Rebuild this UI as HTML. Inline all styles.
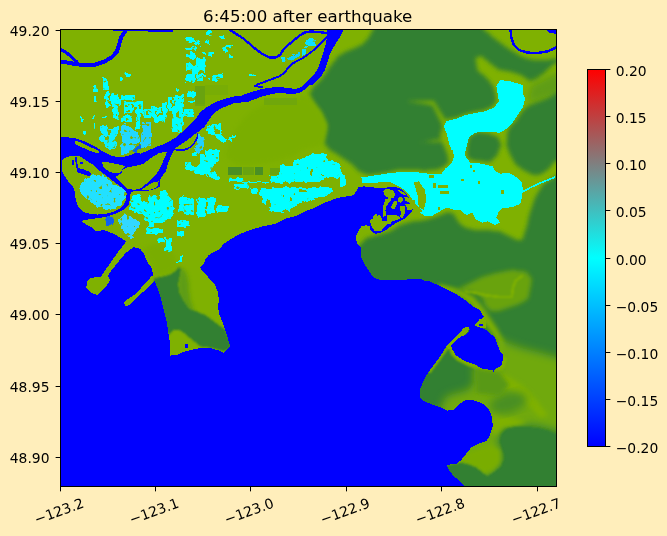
<!DOCTYPE html>
<html><head><meta charset="utf-8"><title>6:45:00 after earthquake</title>
<style>
html,body{margin:0;padding:0;background:#ffeebb;}
body{width:667px;height:536px;overflow:hidden;}
svg{display:block;}
text{font-family:"DejaVu Sans","Liberation Sans",sans-serif;fill:#000;}
.t{font-size:13.89px;}
.ttl{font-size:16.67px;}
</style></head><body>
<svg width="667" height="536" viewBox="0 0 667 536">
<defs>
<linearGradient id="cb" x1="0" y1="1" x2="0" y2="0">
<stop offset="0" stop-color="#0000ff"/>
<stop offset="0.5" stop-color="#00ffff"/>
<stop offset="1" stop-color="#ff0000"/>
</linearGradient>
<clipPath id="axclip"><rect x="60.5" y="29.5" width="496.0" height="457.0"/></clipPath>
<filter id="rag2" x="-5%" y="-5%" width="110%" height="110%">
<feTurbulence type="fractalNoise" baseFrequency="0.25" numOctaves="1" seed="3" result="n"/>
<feDisplacementMap in="SourceGraphic" in2="n" scale="5" xChannelSelector="R" yChannelSelector="G" result="d"/>
<feTurbulence type="fractalNoise" baseFrequency="0.3" numOctaves="1" seed="5" result="n2"/>
<feColorMatrix in="n2" type="matrix" values="0 0 0 0 0  0 0 0 0 0  0 0 0 0 0  12 0 0 0 -8.6" result="m"/>
<feComposite in="d" in2="m" operator="out"/>
</filter>
<filter id="rag" x="-5%" y="-5%" width="110%" height="110%">
<feTurbulence type="fractalNoise" baseFrequency="0.22" numOctaves="1" seed="7" result="n"/>
<feDisplacementMap in="SourceGraphic" in2="n" scale="6" xChannelSelector="R" yChannelSelector="G" result="d"/>
<feTurbulence type="fractalNoise" baseFrequency="0.3" numOctaves="1" seed="11" result="n2"/>
<feColorMatrix in="n2" type="matrix" values="0 0 0 0 0  0 0 0 0 0  0 0 0 0 0  12 0 0 0 -7.7" result="m"/>
<feComposite in="d" in2="m" operator="out"/>
</filter>
<filter id="b1" x="-20%" y="-20%" width="140%" height="140%"><feGaussianBlur stdDeviation="1"/></filter>
<filter id="b2" x="-20%" y="-20%" width="140%" height="140%"><feGaussianBlur stdDeviation="2"/></filter>
<filter id="b4" x="-20%" y="-20%" width="140%" height="140%"><feGaussianBlur stdDeviation="4"/></filter>
<filter id="b7" x="-30%" y="-30%" width="160%" height="160%"><feGaussianBlur stdDeviation="7"/></filter>

</defs>
<rect x="0" y="0" width="667" height="536" fill="#ffeebb"/>
<g clip-path="url(#axclip)">
<g shape-rendering="crispEdges"><rect x="60" y="29" width="497" height="458" fill="#7fb101"/>
<polygon points="378.0,0.0 373.0,29.8 369.0,37.0 363.0,44.2 354.5,48.3 346.0,51.5 339.0,55.5 334.0,61.5 329.3,67.5 325.7,73.5 321.3,79.5 314.0,86.7 309.5,93.0 313.6,103.0 321.4,112.7 327.3,126.3 323.4,141.9 329.2,149.7 339.0,155.6 350.7,163.4 358.5,171.2 368.2,175.1 385.8,173.1 400.0,169.6 425.0,170.7 435.1,170.1 442.6,167.6 448.8,162.6 447.6,155.1 443.8,145.1 441.3,141.4 420.0,142.6 441.3,138.9 440.1,135.1 442.6,127.6 441.3,122.6 432.5,105.1 425.0,103.8 407.5,101.3 425.0,100.5 433.8,101.3 445.1,119.6 456.3,117.6 465.1,114.1 475.1,111.8 485.1,110.1 492.6,106.6 496.6,101.0 495.6,93.8 493.1,85.5 486.4,78.0 477.6,70.0 475.4,58.1 481.3,56.2 491.0,64.0 498.8,69.8 510.5,71.8 522.2,75.7 530.0,81.5 537.8,78.8 545.6,71.8 553.4,64.0 572.9,58.1 575.0,57.0 549.0,59.6 537.4,60.5 527.5,58.8 519.3,55.5 507.7,48.1 496.2,39.8 484.6,30.0 468.0,5.0" fill="#338033" filter="url(#b2)"/>
<polygon points="530.2,85.0 550.2,75.0 580.3,67.5 580.3,97.5 550.2,97.5 535.2,102.5 526.4,102.5" fill="#5e9d16" filter="url(#b4)"/>
<polygon points="580.3,85.0 556.0,93.5 548.7,97.8 540.5,101.0 531.9,104.1 525.7,107.3 521.4,112.6 517.2,118.8 513.2,123.1 508.9,128.3 506.9,134.6 506.4,145.1 510.2,155.1 515.2,163.9 522.7,170.1 532.7,174.7 540.2,174.7 547.7,170.1 554.0,162.6 580.3,145.1" fill="#338033" filter="url(#b2)"/>
<polygon points="469.1,136.6 477.6,132.1 487.6,133.1 498.1,137.1 501.2,145.1 497.1,155.6 490.6,161.9 475.1,161.1 466.6,157.6 467.1,147.6" fill="#338033" filter="url(#b2)"/>
<polygon points="251.2,111.0 266.5,103.3 286.9,98.2 304.7,95.7 312.3,100.8 320.0,111.0 326.4,123.7 325.1,139.0 320.0,146.7 304.7,149.2 291.9,156.9 274.1,161.9 253.7,164.5 235.9,164.5 225.7,156.9 228.2,144.1 235.9,128.8 243.5,118.6" fill="#7aae04" filter="url(#b2)"/>
<path d="M195.1 85.5h10.2v20.4h-10.2z" fill="#6fa60c" />
<path d="M263.9 98.2h33.1v6.4h-33.1z" fill="#70a70b" />
<polygon points="350.0,255.2 355.0,248.9 361.3,243.1 367.5,237.6 377.6,235.1 390.1,231.4 400.1,225.1 412.5,221.4 425.0,220.1 437.6,216.3 447.6,212.1 453.8,213.8 458.8,222.6 465.1,227.6 475.1,230.1 487.6,230.1 500.1,231.4 510.2,236.4 517.7,240.6 522.2,239.6 526.2,228.4 529.9,212.6 535.2,197.1 543.0,184.1 556.2,176.0 590.3,160.0 600.0,520.0 400.0,520.0 380.0,300.0" fill="#338033" filter="url(#b2)"/>
<polygon points="481.4,277.2 494.0,273.6 512.0,270.0 526.4,271.8 531.8,279.0 530.0,289.8 528.2,298.8 519.2,304.2 508.4,307.8 497.6,311.4 490.4,311.4 485.0,306.0 483.2,298.8 476.0,293.4 467.0,291.6 456.2,288.9 447.2,287.1 440.0,285.8 436.4,289.8 450.8,292.5" fill="#69a30f" filter="url(#b2)"/>
<polyline points="522.8,275.4 515.6,280.8 512.9,288.0 512.0,297.0 499.4,297.0 485.0,295.2 476.0,292.5 465.2,291.6" fill="none" stroke="#7fb101" stroke-width="2.5" filter="url(#b1)"/>
<polygon points="438.2,284.4 450.8,288.0 463.4,290.7 474.2,297.0 484.1,308.7 490.4,318.6 497.6,329.4 503.0,339.3 505.7,349.2 506.6,370.7 499.4,370.7 497.6,342.0 490.4,331.2 479.6,316.8 470.6,304.2 458.0,295.2 440.0,289.8" fill="#7fb101" filter="url(#b2)"/>
<polygon points="497.0,339.0 521.0,348.0 541.0,353.0 570.0,361.0 570.0,430.0 556.0,431.0 548.0,428.0 537.0,425.5 526.0,424.5 515.6,424.5 506.6,426.5 500.0,432.0 498.0,441.0 500.5,449.0 503.0,458.0 500.0,467.0 494.0,473.5 487.7,479.0 481.0,474.0 476.0,469.5 468.8,466.8 461.6,465.0 454.4,466.0 447.0,468.0 438.0,462.0 440.0,410.0 446.0,397.0 452.0,394.5 462.0,392.0 470.0,389.0 474.0,382.0 474.0,373.0 472.0,366.0 490.0,372.0 500.0,368.0" fill="#70a90a" filter="url(#b4)"/>
<polygon points="478.0,368.0 491.0,371.0 503.0,374.0 514.0,380.0 526.0,388.0 538.0,402.0 548.0,415.0 540.0,418.0 528.0,406.0 515.0,394.0 503.0,386.0 492.0,381.0 480.0,380.0" fill="#7fb101" filter="url(#b2)"/>
<polygon points="493.0,410.8 501.2,416.2 515.6,418.0 528.0,421.6 515.6,426.0 503.0,427.5 494.0,436.0 491.0,427.0" fill="#7fb101" filter="url(#b2)"/>
<polygon points="447.0,466.0 455.0,460.0 470.0,452.0 490.0,445.0 500.0,450.0 500.0,462.0 492.0,470.0 484.0,474.0 476.0,468.0 462.0,463.0" fill="#79ad05" filter="url(#b2)"/>
<ellipse cx="508" cy="403" rx="19" ry="10" fill="#4a8f24" filter="url(#b4)" transform="rotate(-15 508 403)"/>
<polygon points="575.0,436.0 556.0,434.2 548.0,430.6 537.2,427.9 526.4,427.0 515.6,427.0 506.6,428.8 501.2,434.2 499.4,441.4 502.0,448.6 504.8,457.6 501.2,466.6 494.0,472.0 487.7,476.5 481.4,472.0 476.0,467.5 468.8,464.8 461.6,463.0 454.4,463.9 447.2,465.7 438.0,466.0 438.0,500.0 575.0,500.0" fill="#338033" filter="url(#b1)"/>
<polygon points="143.0,248.0 155.0,243.5 167.0,245.0 174.5,255.5 177.5,267.5 170.0,273.5 155.0,276.5 152.0,266.0 146.0,257.0" fill="#79ad05" filter="url(#b2)"/>
<polygon points="178.7,266.6 185.0,270.2 188.3,279.5 189.2,290.0 190.2,299.0 194.0,311.0 185.0,311.0 179.0,296.0 177.5,284.0 179.3,275.0" fill="#5d9c16" filter="url(#b2)"/>
<polygon points="153.8,278.3 162.5,276.8 170.0,274.5 176.0,270.8 178.7,266.9 180.8,269.3 179.9,275.0 178.2,284.0 179.3,293.0 183.2,300.5 188.7,308.7 196.3,311.3 206.3,315.6 213.9,321.4 218.9,325.1 225.1,329.6 230.1,340.1 231.4,347.6 223.9,351.4 215.1,348.9 206.3,347.1 200.1,346.4 196.3,343.1 190.1,338.1 185.1,333.9 178.8,329.6 173.8,329.6 168.0,335.1 165.0,322.6 162.0,308.8 158.0,295.1 154.5,285.1" fill="#338033" filter="url(#b1)"/>
<polyline points="466.6,328.0 460.0,335.8 454.0,341.8 449.2,346.0" fill="none" stroke="#7fb101" stroke-width="6" stroke-linejoin="round" stroke-linecap="round" />
<polyline points="450.4,346.0 453.4,353.2 458.8,358.6 468.4,363.4 478.0,367.6 487.6,370.6 495.4,371.2 502.0,366.4 504.4,359.2" fill="none" stroke="#7fb101" stroke-width="5" stroke-linejoin="round" stroke-linecap="round" filter="url(#b1)"/>
<polyline points="449.2,345.4 443.2,353.2 437.2,361.6 430.0,371.2" fill="none" stroke="#7fb101" stroke-width="3" stroke-linejoin="round" stroke-linecap="round" filter="url(#b1)"/>
<polygon points="473.2,325.0 478.0,320.2 482.8,317.8 486.4,320.8 486.4,328.0 480.4,328.0" fill="#7fb101" />
<polygon points="475.0,368.0 500.0,372.0 509.0,385.0 500.0,396.0 476.0,393.0" fill="#599919" filter="url(#b2)"/>
<polygon points="500.1,80.0 510.2,81.3 522.7,85.0 522.7,92.5 525.2,98.8 522.7,107.6 517.7,115.1 512.7,122.6 506.4,128.8 500.1,132.6 485.1,132.1 475.1,132.6 468.9,137.6 466.3,147.6 464.6,155.1 466.3,157.5 470.1,162.5 482.6,163.8 492.6,166.3 495.1,171.3 500.1,173.8 507.7,172.5 515.2,176.3 521.4,181.3 522.7,187.6 522.2,196.3 520.2,203.8 512.7,207.1 502.7,208.1 498.9,211.3 496.4,217.6 500.1,222.6 495.1,225.1 487.6,221.4 482.6,222.6 475.1,218.9 472.6,212.6 466.3,215.1 460.1,210.1 453.8,209.6 446.3,207.6 440.1,211.3 432.5,215.6 425.0,216.3 420.0,212.6 422.6,211.3 417.6,206.3 412.6,200.1 407.6,192.6 401.3,187.6 390.1,182.0 377.6,182.5 362.5,182.5 361.3,177.5 377.6,175.0 390.1,173.0 402.6,172.0 415.1,172.0 435.1,174.5 440.1,173.8 441.3,173.8 445.1,168.8 451.3,163.8 453.8,157.5 453.1,150.0 451.3,149.6 448.8,142.6 446.3,132.6 443.8,126.3 446.3,121.3 456.3,118.8 465.1,115.1 475.1,113.1 485.1,111.3 493.9,107.6 498.9,101.3 497.6,93.8 496.4,86.3" fill="#00ffff" />
<polyline points="522.2,192.1 530.2,187.6 540.2,183.0 547.7,180.0 555.2,177.0" fill="none" stroke="#00ffff" stroke-width="1.7"/>
<polygon points="340.0,173.8 345.0,175.0 346.3,185.1 340.0,187.6" fill="#00ffff" />
<path d="M461.3 178.8h2.5v2.5h-2.5zM477.6 181.3h2.5v2.5h-2.5zM501.4 190.1h2.5v3.8h-2.5zM437.6 207.1h2.5v2.5h-2.5zM470.1 165.0h2.0v2.5h-2.0zM472.6 169.5h2.0v2.0h-2.0z" fill="#7fb101" />
<path d="M228.3 166.8h13.6v8.0h-13.6zM254.6 167.2h8.4v7.6h-8.4z" fill="#4a8f24" />
<path d="M243.0 167.2h10.5v7.6h-10.5zM270.3 167.8h9.4v6.9h-9.4z" fill="#69a30f" />
<path d="M195.2 86.0h9.7v16.5h-9.7z" fill="#69a30f" />
<path d="M205.0 84.5h22.5v10.5h-22.5z" fill="#78ad05" />
<path d="M195.5 90.0h9.0v13.5h-9.0z" fill="#69a30f" />
<g filter="url(#rag)"><polygon points="183.5,162.6 189.8,161.5 194.0,166.8 200.3,165.7 202.4,156.3 208.7,154.2 209.7,150.0 219.1,150.0 219.1,160.5 214.9,165.7 210.7,169.9 214.9,173.1 221.2,178.3 217.0,180.4 208.7,176.2 202.4,173.1 196.1,174.1 189.8,171.0 184.5,166.8" fill="#00ffff" />
<path d="M230.7 178.3h13.6v3.1h-13.6zM233.8 183.6h14.7v5.2h-14.7z" fill="#00ffff" />
<polygon points="132.0,195.1 140.4,194.1 141.5,200.4 147.8,202.5 148.8,195.1 155.1,195.1 158.3,200.4 160.4,192.0 164.6,189.9 168.8,195.1 173.0,200.4 174.0,215.1 168.8,219.3 163.5,222.4 155.1,223.5 147.8,222.4 141.5,215.1 135.2,213.0 129.9,210.9 131.0,202.5" fill="#00ffff" />
<polygon points="179.3,197.2 183.5,195.1 187.7,198.3 194.0,199.3 194.4,213.0 189.8,215.1 183.5,214.0 179.3,210.9" fill="#00ffff" />
<path d="M197.1 198.3h8.4v18.9h-8.4zM207.6 198.3h7.3v14.7h-7.3zM217.0 206.7h10.5v5.2h-10.5zM145.7 227.7h16.8v5.2h-16.8zM147.8 222.4h6.3v4.2h-6.3zM177.2 220.3h11.5v6.3h-11.5zM177.2 230.8h6.3v5.2h-6.3zM164.6 238.2h7.3v12.6h-7.3zM157.2 239.2h6.3v3.1h-6.3z" fill="#00ffff" />
<polygon points="119.4,217.2 124.7,214.0 133.1,217.2 139.4,222.4 138.3,227.7 133.1,234.0 131.0,239.2 125.7,234.0 120.5,227.7 118.4,222.4" fill="#30d8ff" />
<path d="M125.1 73.1h6.3v3.1h-6.3zM103.0 78.3h5.2v11.5h-5.2zM92.5 84.6h4.2v7.3h-4.2zM105.1 92.0h4.2v8.4h-4.2zM93.6 96.2h3.1v5.2h-3.1zM120.9 95.1h10.5v5.2h-10.5zM173.3 98.3h4.2v14.7h-4.2zM177.5 101.4h4.2v10.5h-4.2zM183.8 108.8h6.3v8.4h-6.3zM173.3 117.2h5.2v8.4h-5.2zM176.5 123.5h5.2v8.4h-5.2zM79.9 116.1h2.1v5.2h-2.1zM83.1 130.8h2.1v3.1h-2.1zM188.0 92.0h8.4v4.2h-8.4z" fill="#00ffff" />
<polygon points="100.2,125.8 105.6,124.6 108.0,127.6 111.6,128.8 114.0,126.4 118.8,125.8 118.2,132.4 115.8,137.2 117.0,142.0 115.2,148.0 109.2,150.4 106.8,146.8 103.8,143.2 100.2,140.8 100.8,133.6" fill="#10f0ff" />
<path d="M103.8 136.0h4.2v3.6h-4.2zM108.0 130.0h2.4v4.8h-2.4z" fill="#7fb101" />
<polygon points="121.4,125.2 124.8,124.0 128.4,127.6 133.2,128.8 137.4,132.4 139.8,136.0 139.2,142.0 135.6,146.2 130.8,150.4 126.0,154.0 121.2,155.2 120.6,148.0 122.4,140.8 121.2,133.6" fill="#20d8ff" />
<polygon points="142.8,122.8 151.2,122.2 151.8,130.0 151.2,139.6 147.6,145.6 142.8,148.0 140.4,146.2 141.6,138.4 142.8,131.2" fill="#20d0ff" />
<polygon points="132.0,149.8 140.4,144.4 141.6,147.4 135.6,152.8" fill="#1060f0" />
<path d="M105.6 100.0h14.4v7.2h-14.4zM112.8 107.2h6.0v12.0h-6.0zM122.4 115.0h9.6v6.6h-9.6zM123.6 102.4h19.2v10.8h-19.2zM135.6 113.2h4.8v15.6h-4.8zM142.8 109.6h9.6v8.4h-9.6zM152.4 107.2h14.4v10.8h-14.4zM153.6 118.0h12.0v3.6h-12.0zM162.0 102.4h4.8v4.8h-4.8zM92.4 115.6h1.2v2.4h-1.2zM102.0 116.2h3.6v1.8h-3.6zM94.2 123.4h1.0v6.0h-1.0z" fill="#00ffff" />
<path d="M109.2 102.4h1.8v3.6h-1.8zM114.0 107.2h1.8v3.0h-1.8zM126.0 104.8h2.4v2.4h-2.4zM130.8 103.6h1.8v4.8h-1.8zM134.4 107.2h3.0v3.0h-3.0zM139.2 104.8h1.8v4.8h-1.8zM126.0 109.6h3.6v1.8h-3.6zM154.8 110.8h2.4v3.0h-2.4zM159.6 109.0h2.4v3.6h-2.4zM157.2 114.4h6.0v1.4h-6.0zM146.4 112.0h1.8v3.0h-1.8zM115.8 113.2h1.4v3.6h-1.4zM126.0 118.0h1.8v2.4h-1.8z" fill="#7fb101" />
<polygon points="176.4,262.6 180.2,257.6 183.9,255.6 182.7,261.4" fill="#00ffff" />
<path d="M106.3 216.3h7.5v8.8h-7.5z" fill="#1060f0" />
<path d="M205.0 31.2h6.0v3.7h-6.0zM185.5 37.2h9.7v5.2h-9.7zM195.2 41.0h4.5v3.7h-4.5zM205.0 39.5h5.2v4.5h-5.2zM217.7 35.7h6.7v3.7h-6.7zM186.2 47.0h10.5v3.0h-10.5zM223.0 45.5h3.7v6.0h-3.7zM226.0 44.7h6.7v1.5h-6.7zM185.5 54.5h4.5v3.0h-4.5zM190.0 51.5h5.2v7.5h-5.2zM200.5 51.5h5.2v2.2h-5.2zM208.0 51.5h4.5v5.2h-4.5zM228.2 55.2h5.2v2.2h-5.2zM185.5 62.7h6.7v8.2h-6.7zM192.2 65.0h3.7v9.0h-3.7zM196.0 58.2h9.0v12.7h-9.0zM196.0 71.0h2.2v6.0h-2.2zM203.5 71.0h1.5v6.0h-1.5zM198.2 74.7h5.2v2.2h-5.2zM186.2 74.0h9.0v7.5h-9.0zM196.7 75.5h6.0v5.2h-6.0zM211.7 74.7h6.0v6.0h-6.0zM217.7 73.2h6.0v6.0h-6.0zM208.0 77.7h2.2v2.2h-2.2zM250.0 74.0h5.2v2.2h-5.2zM175.7 88.2h3.0v3.0h-3.0zM175.0 95.7h6.7v2.2h-6.7zM188.5 95.0h6.7v2.2h-6.7zM161.5 102.5h3.7v7.5h-3.7zM168.2 98.0h3.7v12.0h-3.7zM178.0 99.5h3.0v10.5h-3.0zM189.2 101.0h6.0v2.2h-6.0z" fill="#00ffff" />
<path d="M109.5 93.7h8.2v6.7h-8.2zM129.0 95.2h6.0v5.2h-6.0zM125.2 72.7h6.0v4.5h-6.0zM120.0 76.5h2.2v4.5h-2.2zM79.5 118.5h3.0v3.0h-3.0zM102.0 116.2h4.5v2.2h-4.5zM82.5 131.2h3.0v3.0h-3.0zM112.5 105.0h5.2v9.0h-5.2z" fill="#00ffff" />
<polygon points="206.7,126.0 213.5,123.7 221.0,123.7 221.7,135.0 227.0,139.5 224.0,142.5 218.0,139.5 213.5,135.0 207.5,132.0" fill="#00ffff" />
<path d="M215.0 129.7h3.7v4.5h-3.7z" fill="#7fb101" />
<polygon points="197.7,135.0 202.2,135.0 204.5,141.0 203.0,150.0 197.7,153.0 194.7,150.0 197.0,142.5" fill="#20d0ff" />
<path d="M229.2 137.2h3.0v3.7h-3.0zM232.2 135.0h3.7v3.0h-3.7zM172.2 108.0h3.7v13.5h-3.7zM176.0 99.0h6.7v13.5h-6.7zM179.0 112.5h4.5v13.5h-4.5zM185.0 109.5h9.0v7.5h-9.0zM172.2 121.5h8.2v10.5h-8.2zM175.2 95.2h8.2v2.2h-8.2zM189.5 95.2h5.2v2.2h-5.2zM169.2 98.2h3.0v11.2h-3.0zM191.0 151.5h6.0v4.5h-6.0zM206.0 150.0h12.0v6.0h-12.0zM200.0 156.0h6.0v6.0h-6.0z" fill="#00ffff" />
<polygon points="142.2,123.0 150.5,122.2 151.2,135.0 150.5,145.5 143.0,147.0 141.5,135.0" fill="#20d0ff" />
<polygon points="288.0,58.3 292.0,55.6 299.2,52.0 300.1,54.7 295.6,58.3 290.2,60.6" fill="#10d0f8" />
<path d="M301.9 49.3h4.5v5.4h-4.5zM306.4 38.5h8.1v7.2h-8.1zM281.2 57.4h3.6v3.6h-3.6zM304.6 46.6h3.6v2.7h-3.6z" fill="#10e0ff" />
</g><g filter="url(#rag2)"><polygon points="279.8,165.7 292.4,164.7 294.5,161.5 302.8,158.4 313.3,153.8 325.9,153.8 325.9,158.4 334.3,161.5 340.0,164.7 342.7,178.3 328.0,178.3 317.5,181.5 304.9,181.5 294.5,182.5 284.0,182.5 271.4,182.5 269.3,176.2 279.8,175.2" fill="#00ffff" />
<path d="M310.2 168.9h3.1v7.3h-3.1zM320.7 174.1h3.1v3.1h-3.1z" fill="#7fb101" />
<polygon points="260.9,187.8 269.3,188.8 284.0,187.4 298.7,187.4 311.2,187.8 321.7,186.7 332.2,187.8 334.3,190.9 325.9,196.2 317.5,198.3 313.3,200.4 304.9,201.4 298.7,203.5 292.4,208.8 288.2,210.9 279.8,211.9 271.4,211.9 267.2,206.7 263.0,202.5 259.8,195.1" fill="#00ffff" />
<path d="M267.2 199.3h3.1v7.3h-3.1zM282.9 194.1h2.1v2.5h-2.1zM290.3 197.2h2.1v5.2h-2.1zM298.7 189.9h8.4v1.7h-8.4z" fill="#7fb101" />
<path d="M229.4 179.4h12.6v2.1h-12.6zM242.0 181.5h27.3v1.9h-27.3zM251.4 187.8h5.2v6.3h-5.2zM200.0 154.2h4.2v8.4h-4.2zM200.0 162.6h8.4v5.2h-8.4zM200.0 169.9h6.3v5.2h-6.3zM205.2 150.0h11.5v2.1h-11.5zM200.0 198.3h4.2v16.8h-4.2zM207.3 198.3h7.3v4.2h-7.3zM208.4 206.7h5.2v6.3h-5.2zM216.8 205.6h10.5v6.3h-10.5z" fill="#00ffff" />
</g><polygon points="478.6,324.2 481.0,323.4 483.4,324.2 482.8,325.8 479.8,326.2" fill="#0000ff" />
<polygon points="60.0,487.0 60.0,137.0 61.3,136.9 67.6,137.3 75.1,138.2 82.7,140.7 90.2,143.9 96.5,147.0 100.3,150.1 107.9,153.9 110.6,155.4 116.6,156.8 123.8,156.8 131.0,155.0 137.0,152.4 140.0,153.7 146.0,151.5 152.0,148.8 158.0,146.2 164.0,144.0 170.0,141.0 176.0,137.2 179.0,145.5 174.5,148.5 171.5,154.5 169.2,160.5 167.0,166.5 166.2,170.1 165.2,172.4 162.2,176.0 159.8,180.8 159.8,186.8 153.8,189.2 147.8,191.0 141.8,191.0 131.0,191.6 129.8,197.6 129.2,204.0 127.5,205.5 123.0,210.0 115.5,213.7 106.5,216.7 97.5,218.2 90.0,219.0 82.5,220.5 80.0,220.5 85.0,223.8 92.5,227.6 96.3,231.3 103.8,230.1 113.8,233.8 120.1,237.6 126.3,241.3 117.6,252.6 108.8,265.1 102.6,273.9 101.3,276.4 90.0,278.1 87.5,281.4 86.3,287.6 91.3,292.7 97.6,295.2 102.6,290.1 106.3,286.4 110.1,280.1 108.1,276.4 110.1,272.0 115.1,266.0 120.3,259.2 126.3,252.5 133.5,247.2 140.1,248.8 143.9,253.8 147.6,262.6 151.4,267.6 153.1,275.1 151.4,276.4 142.6,286.4 133.9,295.2 126.3,300.2 123.8,302.7 125.6,306.4 130.1,304.7 133.9,300.2 145.1,290.1 154.6,281.4 153.8,279.5 156.3,285.1 158.8,291.3 161.3,300.1 163.8,310.1 166.3,320.1 168.0,330.1 169.5,340.1 170.0,350.1 169.5,355.7 177.6,354.7 182.6,352.2 190.1,350.1 200.1,348.1 210.1,348.1 217.6,350.1 223.9,352.7 226.4,350.1 230.1,346.4 227.6,337.6 225.1,330.1 222.6,322.6 219.6,315.1 218.1,307.6 218.9,298.8 217.6,291.3 215.1,285.1 211.4,281.3 207.6,276.3 202.6,271.3 200.1,267.5 203.8,263.8 205.6,258.8 208.9,255.0 212.6,252.5 217.6,250.0 217.5,251.4 223.8,243.9 231.3,238.9 240.1,233.8 250.1,230.1 262.6,226.3 275.1,223.8 285.1,218.8 295.1,216.3 305.2,211.3 315.2,207.6 325.2,202.5 335.2,198.8 339.5,197.5 348.5,196.0 353.7,195.3 356.0,191.5 358.2,187.3 363.5,186.4 368.0,186.8 371.3,187.1 375.1,187.6 385.1,187.6 395.1,187.1 401.3,188.8 406.3,193.8 410.1,200.1 413.9,206.3 411.4,212.6 406.3,217.6 398.8,221.4 392.6,225.1 387.6,228.9 381.3,232.6 375.1,233.9 370.0,230.1 366.3,225.1 361.3,226.4 357.5,232.6 355.5,237.6 357.5,243.9 361.3,247.6 361.3,257.7 365.0,265.2 370.0,272.7 373.8,277.7 381.3,280.2 402.6,279.7 420.1,278.9 426.4,281.4 427.6,280.5 435.1,283.8 442.7,287.6 450.2,291.3 457.7,295.1 465.2,300.1 472.7,306.3 479.8,310.0 481.6,313.6 484.0,316.6 482.8,318.4 479.8,319.0 478.0,321.4 476.2,323.8 473.8,325.0 476.2,325.8 478.0,326.8 481.6,328.0 484.6,329.2 487.6,331.0 489.4,333.4 492.4,335.2 495.4,338.2 496.6,342.4 498.4,347.2 500.2,351.4 502.6,354.4 502.9,359.2 502.0,364.0 499.0,367.0 494.8,369.4 493.6,372.4 492.4,370.0 487.6,369.4 482.8,368.8 478.0,366.4 474.4,364.0 469.6,362.8 464.8,361.0 460.0,358.0 455.8,355.0 452.8,350.2 451.0,346.0 452.2,344.2 455.8,341.2 459.4,337.6 462.4,335.8 465.4,335.2 467.8,332.8 469.6,329.8 469.0,327.4 466.0,326.8 463.6,328.0 461.8,330.4 458.8,334.0 455.2,337.6 451.6,341.2 448.0,344.2 445.6,347.8 443.2,351.4 440.8,355.6 437.2,360.4 433.6,365.2 430.0,370.0 427.6,373.5 423.8,379.8 420.0,389.8 419.5,397.3 423.8,401.1 431.3,404.1 440.1,407.3 447.6,410.6 453.8,409.8 458.9,404.8 463.9,400.6 470.1,399.8 476.4,401.1 482.6,403.6 488.9,409.8 492.2,417.3 492.7,426.1 490.1,434.9 486.4,441.1 477.6,444.1 471.4,447.4 466.4,453.6 461.4,459.9 456.3,463.7 446.3,464.9 448.8,469.9 453.8,476.2 460.1,481.2 465.1,487.4 465.0,487.0" fill="#0000ff" />
<polygon points="326.1,17.8 327.0,35.8 326.1,43.0 323.4,52.0 320.7,61.0 317.2,70.0 311.8,77.2 306.4,82.6 301.0,87.1 295.6,88.9 288.4,88.0 281.2,87.1 274.0,87.1 268.6,88.0 262.3,88.9 256.0,90.7 248.8,93.0 241.6,95.5 233.0,96.7 225.5,98.7 218.0,101.2 210.5,105.0 204.5,108.7 200.0,112.5 197.0,117.0 193.2,121.5 189.5,125.2 185.0,129.7 180.5,133.5 176.0,137.2 170.0,141.7 174.5,148.8 179.0,145.5 185.0,141.7 191.0,137.2 195.5,133.5 200.0,130.5 204.5,126.7 207.5,122.2 209.7,118.5 213.5,114.0 218.0,110.2 225.5,106.5 233.0,103.5 248.8,101.5 256.0,98.8 263.2,96.1 270.4,94.3 277.6,93.0 284.8,93.4 292.0,94.3 299.2,93.0 304.6,89.8 309.1,85.3 313.2,84.4 318.0,79.6 321.6,75.4 324.6,70.6 326.4,65.8 328.2,59.8 330.0,53.8 332.4,49.0 335.4,44.2 338.4,39.4 341.4,34.6 343.2,29.8 343.8,20.2" fill="#0000ff" />
<polyline points="327.0,36.7 320.7,43.0 313.6,50.2 306.4,55.6 299.2,60.1 292.0,63.7 288.4,67.3 284.8,72.7 279.4,76.3 272.2,79.0 265.0,81.7 257.8,84.4 255.1,85.8 263.2,87.6" fill="none" stroke="#0000ff" stroke-width="1.9" stroke-linejoin="round"/>
<polyline points="228.1,28.6 236.2,34.0 243.4,38.5 250.6,44.8 256.0,49.3 262.3,53.8 269.5,57.7 275.8,57.4 280.3,54.7 283.0,50.2 288.4,44.8 293.8,40.3 299.2,35.8 304.6,32.6 310.0,31.5 317.2,31.8 327.0,33.1" fill="none" stroke="#0000ff" stroke-width="2.3" stroke-linejoin="round"/>
<polyline points="197.3,133.5 197.7,136.5 195.5,141.0 192.5,145.5 188.0,148.5 183.5,150.0 177.5,150.0 174.2,149.1" fill="none" stroke="#0000ff" stroke-width="1.6" stroke-linejoin="round"/>
<polyline points="57.9,60.9 68.4,62.8 75.7,64.1 85.2,65.3 95.7,64.5 104.1,61.7 111.4,57.5 116.7,52.1 119.2,44.1 121.3,37.0 125.5,30.7" fill="none" stroke="#0000ff" stroke-width="4.0" stroke-linejoin="round"/>
<polyline points="57.9,48.3 66.3,52.5 71.5,57.1 77.2,62.2" fill="none" stroke="#0000ff" stroke-width="3.0" stroke-linejoin="round"/>
<path d="M113 29h36v2.1h-36zM148 29h24.5v3h-24.5z" fill="#0000ff"/>
<polyline points="510,25 511.3,37.6 513.8,45 518.8,50 527.5,52.6 537.6,53 547.6,51.3 553.8,48.8 558,45.5" fill="none" stroke="#0000ff" stroke-width="2.4"/>
<polygon points="545,29 557,29 557,34 550,33" fill="#0000ff"/>
<path d="M184.6 344.1h3.5v3.5h-3.5z" fill="#0000ff" />
<polygon points="99.0,170.2 105.0,174.7 111.7,180.0 118.5,185.2 123.7,189.3 126.7,193.5 126.0,199.5 123.7,204.7 120.0,208.5 114.0,211.5 106.5,213.7 97.5,214.5 90.0,213.7 84.0,212.2 80.2,209.2 77.2,204.7 75.7,199.5 75.0,193.5 73.5,187.5 69.0,182.2 65.2,177.0 62.2,171.0 61.5,165.0 62.2,159.7 67.5,156.7 73.5,155.7 81.0,156.7 86.2,160.5 92.2,164.2 95.2,167.2" fill="#7fb101" />
<polygon points="102.2,161.6 107.0,162.2 113.0,163.4 119.0,164.6 125.0,166.1 122.6,168.8 120.8,172.4 116.6,173.0 110.6,172.4 105.8,169.4 102.8,165.8" fill="#7fb101" />
<polygon points="122.6,169.4 128.6,167.0 135.8,165.8 143.0,164.0 147.8,160.4 152.6,156.8 158.6,153.4 167.0,151.4 165.8,155.6 163.4,160.4 161.0,166.4 157.4,172.4 153.8,177.2 149.0,181.4 144.2,185.6 139.4,189.2 133.4,189.8 127.4,188.6 122.6,184.4 118.4,179.6 115.4,176.6 119.0,174.8 122.0,172.4" fill="#7fb101" />
<polygon points="141.2,189.8 146.6,186.2 152.6,182.6 158.6,181.4 157.4,186.8 153.8,188.6 147.8,190.4" fill="#7fb101" />
<polygon points="75.0,140.8 80.0,142.0 88.0,146.0 95.0,149.0 99.5,151.6 98.0,153.6 90.0,150.8 82.0,147.3 75.5,144.0" fill="#7fb101" />
<polygon points="383.3,190.7 386.5,188.6 390.7,189.7 393.8,190.7 394.9,194.4 393.8,198.1 390.7,198.6 386.5,197.0 383.9,194.4" fill="#7fb101" />
<polygon points="385.4,199.1 389.6,198.1 391.7,200.2 388.6,202.8 386.5,206.5 385.4,210.7 386.5,214.9 383.3,217.0 382.8,211.7 383.3,205.4" fill="#7fb101" />
<polygon points="398.0,197.6 402.2,197.0 403.3,200.7 400.1,202.8 398.0,201.2" fill="#7fb101" />
<polygon points="393.8,201.2 397.0,201.2 396.5,205.4 394.9,208.6 391.7,209.6 391.2,206.5" fill="#7fb101" />
<polygon points="400.1,206.5 404.3,205.4 405.4,209.6 404.3,214.9 402.2,218.0 399.6,217.0 401.2,212.8 400.1,209.6" fill="#7fb101" />
<polygon points="405.4,204.4 410.6,204.4 413.8,206.5 412.2,209.6 407.5,209.6" fill="#7fb101" />
<polygon points="404.3,197.0 408.5,197.6 413.8,201.2 414.8,203.9 409.6,202.8 405.4,200.7" fill="#7fb101" />
<polygon points="386.5,215.4 391.7,214.9 397.0,215.4 401.2,218.0 397.0,220.1 391.7,221.2 390.7,224.3 387.5,224.3 386.5,220.1" fill="#7fb101" />
<polygon points="369.7,220.1 372.3,219.1 373.9,214.9 376.0,213.8 377.6,215.9 379.7,214.9 381.2,217.0 382.3,221.2 386.5,221.2 386.5,225.4 383.3,228.5 381.2,231.0 374.9,231.0 371.8,227.5 370.7,223.3" fill="#7fb101" />
<polygon points="361.3,226.4 365.5,225.4 369.7,226.4 369.7,231.0 361.3,231.0" fill="#7fb101" />
<polygon points="397.0,189.7 401.2,190.7 406.4,194.4 404.3,195.5 400.1,192.8" fill="#7fb101" />
<polygon points="80.2,183.7 84.0,179.2 92.2,175.5 99.0,174.0 105.0,177.0 112.5,182.2 120.0,187.5 124.5,192.0 124.5,199.5 121.5,204.7 115.5,208.5 108.0,210.0 99.0,207.7 91.5,202.5 85.5,198.0 81.0,193.5 79.5,187.5" fill="#20e0ff" filter="url(#rag)"/>
<polygon points="77.0,167.8 82.7,169.0 89.0,171.6 91.5,174.1 89.0,176.0 82.7,174.1 77.6,172.2" fill="#0000ff" />
<polyline points="75.7,157.1 76.4,162.7 77.4,168.4" fill="none" stroke="#0000ff" stroke-width="1.6" stroke-linejoin="round"/>
<path d="M72.0 159.6h1.8v5.0h-1.8zM80.1 162.1h2.5v1.9h-2.5z" fill="#0000ff" />
<polygon points="413.8,182.5 418.8,181.3 425.0,190.1 426.3,200.1 423.8,210.1 418.8,207.6 417.5,195.1" fill="#7fb101" />
<path d="M432.5 182.5h3.8v5.0h-3.8zM437.6 185.1h10.0v3.0h-10.0zM440.1 191.3h8.8v3.0h-8.8zM410.0 200.1h5.0v7.5h-5.0zM428.8 175.0h5.0v2.5h-5.0z" fill="#7fb101" />
</g>
</g>
<rect x="60.5" y="29.5" width="496.0" height="457.0" fill="none" stroke="#000" stroke-width="1"/>
<line x1="55.64" x2="60.5" y1="30.50" y2="30.50" stroke="#000" stroke-width="1"/><text class="t" x="49.5" y="36.10" text-anchor="end">49.20</text>
<line x1="55.64" x2="60.5" y1="101.50" y2="101.50" stroke="#000" stroke-width="1"/><text class="t" x="49.5" y="107.10" text-anchor="end">49.15</text>
<line x1="55.64" x2="60.5" y1="172.50" y2="172.50" stroke="#000" stroke-width="1"/><text class="t" x="49.5" y="178.10" text-anchor="end">49.10</text>
<line x1="55.64" x2="60.5" y1="243.50" y2="243.50" stroke="#000" stroke-width="1"/><text class="t" x="49.5" y="249.10" text-anchor="end">49.05</text>
<line x1="55.64" x2="60.5" y1="314.50" y2="314.50" stroke="#000" stroke-width="1"/><text class="t" x="49.5" y="320.10" text-anchor="end">49.00</text>
<line x1="55.64" x2="60.5" y1="386.50" y2="386.50" stroke="#000" stroke-width="1"/><text class="t" x="49.5" y="392.10" text-anchor="end">48.95</text>
<line x1="55.64" x2="60.5" y1="457.50" y2="457.50" stroke="#000" stroke-width="1"/><text class="t" x="49.5" y="463.10" text-anchor="end">48.90</text>
<line x1="60.50" x2="60.50" y1="486.5" y2="491.36" stroke="#000" stroke-width="1"/><text class="t" transform="translate(59.00,511.00) rotate(-20)" x="0" y="5" text-anchor="middle">−123.2</text>
<line x1="155.50" x2="155.50" y1="486.5" y2="491.36" stroke="#000" stroke-width="1"/><text class="t" transform="translate(154.00,511.00) rotate(-20)" x="0" y="5" text-anchor="middle">−123.1</text>
<line x1="250.50" x2="250.50" y1="486.5" y2="491.36" stroke="#000" stroke-width="1"/><text class="t" transform="translate(249.00,511.00) rotate(-20)" x="0" y="5" text-anchor="middle">−123.0</text>
<line x1="346.50" x2="346.50" y1="486.5" y2="491.36" stroke="#000" stroke-width="1"/><text class="t" transform="translate(345.00,511.00) rotate(-20)" x="0" y="5" text-anchor="middle">−122.9</text>
<line x1="441.50" x2="441.50" y1="486.5" y2="491.36" stroke="#000" stroke-width="1"/><text class="t" transform="translate(440.00,511.00) rotate(-20)" x="0" y="5" text-anchor="middle">−122.8</text>
<line x1="537.50" x2="537.50" y1="486.5" y2="491.36" stroke="#000" stroke-width="1"/><text class="t" transform="translate(536.00,511.00) rotate(-20)" x="0" y="5" text-anchor="middle">−122.7</text>
<text class="ttl" x="307.70" y="22" text-anchor="middle">6:45:00 after earthquake</text>
<rect x="587.5" y="69.5" width="18.0" height="377.0" fill="url(#cb)" stroke="#000" stroke-width="1"/>
<line x1="605.5" x2="610.36" y1="69.50" y2="69.50" stroke="#000" stroke-width="1"/><text class="t" x="615.7" y="75.50">0.20</text>
<line x1="605.5" x2="610.36" y1="116.50" y2="116.50" stroke="#000" stroke-width="1"/><text class="t" x="615.7" y="122.50">0.15</text>
<line x1="605.5" x2="610.36" y1="163.50" y2="163.50" stroke="#000" stroke-width="1"/><text class="t" x="615.7" y="169.50">0.10</text>
<line x1="605.5" x2="610.36" y1="210.50" y2="210.50" stroke="#000" stroke-width="1"/><text class="t" x="615.7" y="216.50">0.05</text>
<line x1="605.5" x2="610.36" y1="258.50" y2="258.50" stroke="#000" stroke-width="1"/><text class="t" x="615.7" y="264.50">0.00</text>
<line x1="605.5" x2="610.36" y1="305.50" y2="305.50" stroke="#000" stroke-width="1"/><text class="t" x="615.7" y="311.50">−0.05</text>
<line x1="605.5" x2="610.36" y1="352.50" y2="352.50" stroke="#000" stroke-width="1"/><text class="t" x="615.7" y="358.50">−0.10</text>
<line x1="605.5" x2="610.36" y1="399.50" y2="399.50" stroke="#000" stroke-width="1"/><text class="t" x="615.7" y="405.50">−0.15</text>
<line x1="605.5" x2="610.36" y1="446.50" y2="446.50" stroke="#000" stroke-width="1"/><text class="t" x="615.7" y="452.50">−0.20</text>
</svg>
</body></html>
